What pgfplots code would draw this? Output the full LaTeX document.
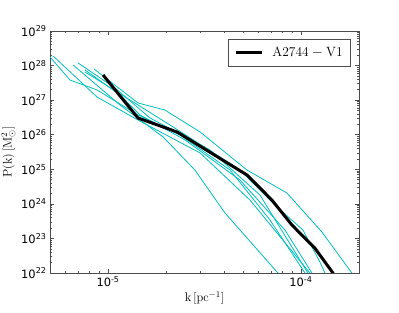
\documentclass[border=0pt]{standalone}
\usepackage{pgfplots}
\pgfplotsset{compat=1.18}
\usepackage{fontspec}
\newfontfamily\dejavu{DejaVu Sans}
\definecolor{cy}{rgb}{0,0.75,0.75}
\begin{document}
\begin{tikzpicture}
\begin{axis}[name=ax, scale only axis, width=309bp, height=242bp,
  xmode=log, ymode=log, xmin=5e-6, xmax=2e-4, ymin=1e22, ymax=1e29,
  xtick={1e-5,1e-4},
  xticklabels={10\textsuperscript{-5},10\textsuperscript{-4}},
  ytick={1e22,1e23,1e24,1e25,1e26,1e27,1e28,1e29},
  yticklabels={10\textsuperscript{22},10\textsuperscript{23},10\textsuperscript{24},10\textsuperscript{25},10\textsuperscript{26},10\textsuperscript{27},10\textsuperscript{28},10\textsuperscript{29}},
  minor xtick={6e-6,7e-6,8e-6,9e-6,2e-5,3e-5,4e-5,5e-5,6e-5,7e-5,8e-5,9e-5},
  minor ytick={2e22,3e22,4e22,5e22,6e22,7e22,8e22,9e22,
    2e23,3e23,4e23,5e23,6e23,7e23,8e23,9e23,
    2e24,3e24,4e24,5e24,6e24,7e24,8e24,9e24,
    2e25,3e25,4e25,5e25,6e25,7e25,8e25,9e25,
    2e26,3e26,4e26,5e26,6e26,7e26,8e26,9e26,
    2e27,3e27,4e27,5e27,6e27,7e27,8e27,9e27,
    2e28,3e28,4e28,5e28,6e28,7e28,8e28,9e28},
  tick align=inside, major tick length=4bp, minor tick length=2bp,
  every tick/.style={black!70, line width=0.5bp},
  axis line style={black!70, line width=0.8bp},
  ticklabel style={font=\fontsize{11.5}{13}\selectfont\dejavu},
  xlabel={$\mathrm{k\,[pc^{-1}]}$},
  ylabel={$\mathrm{P(k)\,[M_\odot^2]}$},
  label style={font=\fontsize{12.5}{14}\selectfont},
  xlabel style={yshift=2bp},
  ylabel style={yshift=-1bp},
  legend style={at={(1,1)}, anchor=north east, xshift=-8bp, yshift=-8bp,
    draw=black!70, line width=0.6bp, font=\fontsize{13.5}{15}\selectfont,
    inner xsep=6bp, inner ysep=6bp},
  legend cell align=left,
  legend image code/.code={\draw[#1] (0bp,0bp) -- (26bp,0bp); \path (33bp,0bp);},
]
\addplot[cy, line width=0.8bp, forget plot] coordinates {(8.46e-6,7.96e27)(1.43e-5,8.27e26)(1.97e-5,5.19e26)(3.00e-5,1.20e26)(5.25e-5,9.53e24)(8.46e-5,2.06e24)(1.285e-4,1.53e23)(1.837e-4,1e22)(2.0e-4,4e21)};
\addplot[cy, line width=0.8bp, forget plot] coordinates {(6.59e-6,1.04e28)(1.154e-5,7.23e26)(1.93e-5,8.59e25)(2.82e-5,9.53e24)(4.04e-5,5.43e23)(7.60e-5,1e22)(8.5e-5,4e21)};
\addplot[cy, line width=0.8bp, forget plot] coordinates {(5.0e-6,1.77e28)(6.35e-6,3.82e27)(8.77e-6,1.97e27)(1.43e-5,3.72e26)(2.36e-5,9.8e25)(4.29e-5,9.53e24)(6.91e-5,3.41e23)(1.049e-4,1e22)(1.12e-4,5e21)};
\addplot[cy, line width=0.8bp, forget plot] coordinates {(5.19e-6,1.89e28)(8.77e-6,1.23e27)(1.43e-5,2.66e26)(3.00e-5,2.96e25)(5.44e-5,1.29e24)(1.113e-4,1e22)(1.2e-4,5e21)};
\addplot[cy, line width=0.8bp, forget plot] coordinates {(7.60e-6,7.45e27)(1.154e-5,1.41e27)(1.465e-5,3.72e26)(2.51e-5,7.03e25)(4.83e-5,4.9e24)(8.26e-5,1.75e23)(1.14e-4,1e22)(1.22e-4,5e21)};
\addplot[cy, line width=0.8bp, forget plot] coordinates {(7.60e-6,6.52e27)(1.30e-5,1.01e27)(2.22e-5,1.56e26)(4.83e-5,9.53e24)(7.33e-5,9.27e23)(1.024e-4,1.75e23)(1.254e-4,2.08e22)(1.332e-4,1e22)(1.4e-4,5e21)};
\addplot[cy, line width=0.8bp, forget plot] coordinates {(6.99e-6,1.19e28)(1.087e-5,2.24e27)(1.65e-5,3.04e26)(3.38e-5,3.61e25)(6.13e-5,1.80e24)(1.087e-4,1e22)(1.15e-4,5e21)};
\addplot[black, line width=3bp] coordinates {(9.42e-6,5.34e27)(1.43e-5,3.04e26)(2.28e-5,1.20e26)(5.25e-5,6.83e24)(7.07e-5,1.29e24)(8.98e-5,2.44e23)(1.18e-4,5.28e22)(1.465e-4,1e22)(1.55e-4,5e21)};
\addlegendentry{$\mathrm{A2744-V1}$}
\end{axis}
\pgfresetboundingbox
\path[use as bounding box] ([xshift=-50bp,yshift=-40bp]ax.south west) rectangle ([xshift=40bp,yshift=31bp]ax.north east);
\end{tikzpicture}
\end{document}
